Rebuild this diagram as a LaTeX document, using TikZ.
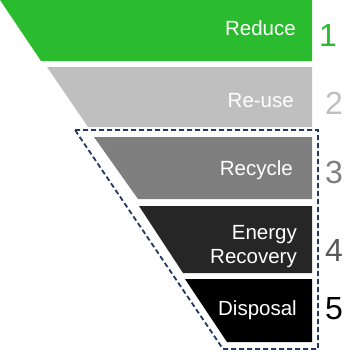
\documentclass[tikz,border=0pt]{standalone}
\usepackage{fontspec}
\setmainfont{Liberation Sans}
\definecolor{tiergreen}{RGB}{43,187,47}
\definecolor{tierlight}{RGB}{191,191,191}
\definecolor{tiermid}{RGB}{127,127,127}
\definecolor{tierdark}{RGB}{38,38,38}
\definecolor{rankdark}{RGB}{89,89,89}
\definecolor{framenavy}{RGB}{31,56,100}
\tikzset{
  tier/.style={fill=#1, draw=none},
  tierlbl/.style={anchor=base east, text=white, inner sep=0pt,
                  font=\fontsize{20.5}{24}\selectfont, align=right},
  rank/.style={anchor=base west, text=#1, inner sep=0pt,
               font=\fontsize{32}{34}\selectfont},
  recovery/.style={draw=framenavy, line width=1.8pt, dash pattern=on 5pt off 3pt},
}

\begin{document}
\begin{tikzpicture}[x=1pt, y=-1pt]
\useasboundingbox (0,0) rectangle (364,351);

%% == TIERS ===================================================================
\fill[tier=tiergreen] (0,0)   -- (312,0)   -- (312,61)  -- (41,61)  -- cycle;
\fill[tier=tierlight] (47,67) -- (312,67)  -- (312,127) -- (88,127) -- cycle;
\fill[tier=tiermid]   (94,137) -- (312,137) -- (312,199) -- (138,199) -- cycle;
\fill[tier=tierdark]  (139,206) -- (312,206) -- (312,273) -- (183,273) -- cycle;
\fill[tier=black]     (185,279) -- (312,279) -- (312,342) -- (227,342) -- cycle;

%% == LABELS ==================================================================
\node[tierlbl] (reduce)   at (296,35)  {Reduce};
\node[tierlbl] (reuse)    at (294,107) {Re-use};
\node[tierlbl] (recycle)  at (293,175) {Recycle};
% base of a two-line node is its last line
\node[tierlbl] (energy)   at (297,263) {Energy\\Recovery};
\node[tierlbl] (disposal) at (297,315) {Disposal};

%% == RANKS ===================================================================
\node[rank=tiergreen] (r1) at (319,46)  {1};
\node[rank=tierlight] (r2) at (325,114) {2};
\node[rank=tiermid]   (r3) at (325,183) {3};
\node[rank=rankdark]  (r4) at (325,261) {4};
\node[rank=black]     (r5) at (325,319) {5};

% dashed frame round tiers 3-5
\draw[recovery] (75,130) -- (318,130) -- (318,349) -- (223,349) -- cycle;
\end{tikzpicture}
\end{document}
